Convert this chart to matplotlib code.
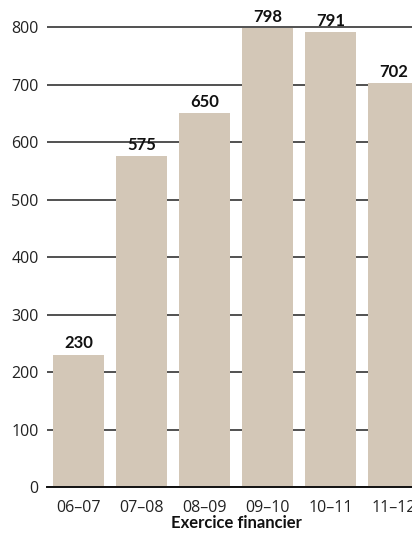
import matplotlib
matplotlib.use("Agg")
import matplotlib.pyplot as plt

years = ["06–07", "07–08", "08–09", "09–10", "10–11", "11–12"]
values = [230, 575, 650, 798, 791, 702]
yticks = [0, 100, 200, 300, 400, 500, 600, 700, 800]

plt.rcParams["font.family"] = ["Open Sans", "DejaVu Sans"]
BOLD = ["Lato", "DejaVu Sans"]

W, H = 412, 540
fig = plt.figure(figsize=(W / 100, H / 100), dpi=100)
ax = fig.add_axes([47 / W, 53 / H, (W - 47) / W, (487 - 25.3) / H])

x = list(range(len(years)))
ax.bar(x, values, width=0.81, color="#d3c7b7", zorder=2)

for xi, v in zip(x, values):
    ax.text(xi, v + 6, str(v), ha="center", va="bottom", fontsize=12,
            fontweight="bold", family=BOLD, color="#111111", zorder=3,
            clip_on=False)

ax.set_xlim(-0.5, 5.29)
ax.set_ylim(0, 803)
ax.set_yticks(yticks)
ax.set_xticks(x)
ax.set_xticklabels(years)
ax.grid(axis="y", color="#222222", linewidth=1.1, zorder=1)
ax.set_axisbelow(True)
for s in ["top", "right", "left"]:
    ax.spines[s].set_visible(False)
ax.spines["bottom"].set_color("#111111")
ax.spines["bottom"].set_linewidth(1.4)
ax.spines["bottom"].set_zorder(4)
ax.tick_params(axis="both", length=0, labelsize=11.5, colors="#222222")
ax.tick_params(axis="y", pad=6)
ax.tick_params(axis="x", pad=9.5)
ax.set_xlabel("Exercice financier", fontsize=12, fontweight="bold",
              family=BOLD, color="#111111")
ax.xaxis.set_label_coords((236 - 47) / (W - 47), -(515 - 487) / (487 - 25.3))

fig.savefig("out.png", dpi=100)
